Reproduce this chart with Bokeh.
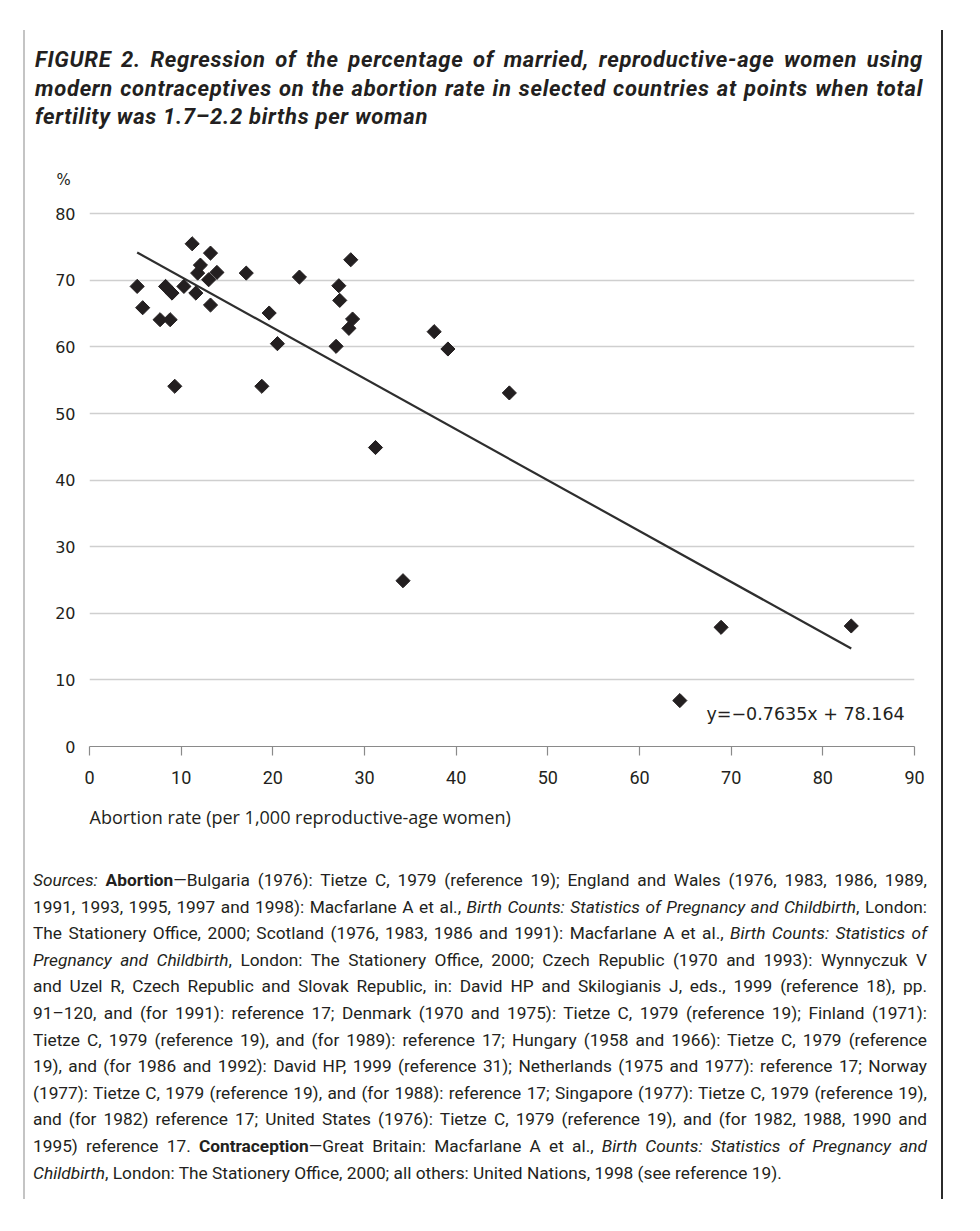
import numpy as np
from bokeh.plotting import figure
from bokeh.models import Label, Div, FixedTicker, Range1d, Title
from bokeh.layouts import column
from bokeh.embed import file_html
from bokeh.resources import INLINE

# ---------------- data ----------------
abortion_rate = [5.2, 5.8, 7.7, 8.8, 8.3, 9.0, 9.3, 10.3, 11.2, 11.6,
                 11.8, 12.1, 13.0, 13.2, 13.2, 13.9, 17.1, 18.8, 19.6, 20.5,
                 22.9, 26.9, 27.2, 27.3, 28.3, 28.5, 28.7, 31.2, 34.2, 37.6,
                 39.1, 45.8, 64.4, 68.9, 83.1]
contraceptive_pct = [69.1, 65.9, 64.1, 64.1, 69.1, 68.1, 54.1, 69.1, 75.5, 68.1,
                     71.1, 72.3, 70.1, 74.1, 66.3, 71.2, 71.1, 54.1, 65.1, 60.5,
                     70.5, 60.1, 69.2, 67.0, 62.8, 73.1, 64.2, 44.9, 24.9, 62.3,
                     59.7, 53.1, 6.9, 17.9, 18.1]
slope = -0.7635
intercept = 78.164
x_ticks = [0, 10, 20, 30, 40, 50, 60, 70, 80, 90]
y_ticks = [0, 10, 20, 30, 40, 50, 60, 70, 80]
equation_text = "y=\u22120.7635x + 78.164"
x_axis_title = "Abortion rate (per 1,000 reproductive-age women)"
y_unit = "%"

title_lines = [
    "FIGURE 2. Regression of the percentage of married, reproductive-age women using",
    "modern contraceptives on the abortion rate in selected countries at points when total",
    "fertility was 1.7\u20132.2 births per woman",
]
source_lines = [
    "<i>Sources:</i> <b>Abortion</b>\u2014Bulgaria (1976): Tietze C, 1979 (reference 19); England and Wales (1976, 1983, 1986, 1989,",
    "1991, 1993, 1995, 1997 and 1998): Macfarlane A et al., <i>Birth Counts: Statistics of Pregnancy and Childbirth</i>, London:",
    "The Stationery Office, 2000; Scotland (1976, 1983, 1986 and 1991): Macfarlane A et al., <i>Birth Counts: Statistics of</i>",
    "<i>Pregnancy and Childbirth</i>, London: The Stationery Office, 2000; Czech Republic (1970 and 1993): Wynnyczuk V",
    "and Uzel R, Czech Republic and Slovak Republic, in: David HP and Skilogianis J, eds., 1999 (reference 18), pp.",
    "91\u2013120, and (for 1991): reference 17; Denmark (1970 and 1975): Tietze C, 1979 (reference 19); Finland (1971):",
    "Tietze C, 1979 (reference 19), and (for 1989): reference 17; Hungary (1958 and 1966): Tietze C, 1979 (reference",
    "19), and (for 1986 and 1992): David HP, 1999 (reference 31); Netherlands (1975 and 1977): reference 17; Norway",
    "(1977): Tietze C, 1979 (reference 19), and (for 1988): reference 17; Singapore (1977): Tietze C, 1979 (reference 19),",
    "and (for 1982) reference 17; United States (1976): Tietze C, 1979 (reference 19), and (for 1982, 1988, 1990 and",
    "1995) reference 17. <b>Contraception</b>\u2014Great Britain: Macfarlane A et al., <i>Birth Counts: Statistics of Pregnancy and</i>",
    "<i>Childbirth</i>, London: The Stationery Office, 2000; all others: United Nations, 1998 (see reference 19).",
]

INK = "#231f20"
FONT = "Roboto, 'Open Sans', sans-serif"

def block(lines):
    out = []
    for i, l in enumerate(lines):
        align = "left" if i == len(lines) - 1 else "justify"
        out.append(f'<div style="white-space:nowrap;text-align:justify;text-align-last:{align};">{l}</div>')
    return "".join(out)

# ---------------- title ----------------
title_html = (f'<div style="width:893px;padding:11px 0 0 5px;font-family:{FONT};'
              f'font-size:22px;letter-spacing:0.7px;line-height:28.5px;'
              f'font-weight:bold;font-style:italic;color:{INK};">'
              + block(title_lines) + '</div>')
title_div = Div(text=title_html, width=916, height=97)

# ---------------- plot ----------------
p = figure(width=916, height=707, x_range=Range1d(0, 90), y_range=Range1d(0, 80.5),
           output_backend="svg", toolbar_location=None,
           min_border_left=64, min_border_right=27, min_border_top=73, min_border_bottom=98)
p.outline_line_color = None
p.background_fill_color = "white"
p.border_fill_color = "white"

p.xgrid.visible = False
p.ygrid.ticker = FixedTicker(ticks=y_ticks[1:])
p.ygrid.grid_line_color = "#cfcfcf"
p.ygrid.grid_line_width = 1.5

p.xaxis.ticker = FixedTicker(ticks=x_ticks)
p.xaxis.axis_line_color = "#8a8a8a"
p.xaxis.axis_line_width = 1.2
p.xaxis.major_tick_line_color = "#8a8a8a"
p.xaxis.major_tick_line_width = 1.2
p.xaxis.major_tick_out = 9
p.xaxis.major_tick_in = 0
p.xaxis.minor_tick_line_color = None
p.xaxis.major_label_standoff = 15
p.xaxis.major_label_text_font = "Roboto"
p.xaxis.major_label_text_font_size = "18px"
p.xaxis.major_label_text_color = INK

p.yaxis.ticker = FixedTicker(ticks=y_ticks)
p.yaxis.axis_line_color = None
p.yaxis.major_tick_line_color = None
p.yaxis.minor_tick_line_color = None
p.yaxis.major_tick_out = 0
p.yaxis.major_tick_in = 0
p.yaxis.major_label_standoff = 14
p.yaxis.major_label_text_font = "DejaVu Sans"
p.yaxis.major_label_text_font_size = "16px"
p.yaxis.major_label_text_color = INK

# regression line drawn from the equation over the data's x extent
xs_fit = np.array([min(abortion_rate), max(abortion_rate)])
p.line(xs_fit, slope * xs_fit + intercept, line_color="#2e2e2e", line_width=2.2)

p.scatter(abortion_rate, contraceptive_pct, marker="square", angle=np.pi / 4,
          size=10, fill_color=INK, line_color=INK)

p.add_layout(Label(x=67.3, y=4.95, text=equation_text, text_baseline="middle",
                   text_font="DejaVu Sans", text_font_size="17.5px", text_color=INK))

# "%" unit above the y tick labels, x-axis title left-aligned below the ticks
p.add_layout(Title(text=y_unit, align="left", offset=-33, standoff=43,
                   text_font="DejaVu Sans", text_font_size="15px",
                   text_font_style="normal", text_color=INK), "above")
p.add_layout(Title(text=x_axis_title, align="left", offset=0, standoff=32,
                   text_font="Open Sans", text_font_size="18px",
                   text_font_style="normal", text_color=INK), "below")

# ---------------- sources ----------------
src_html = (f'<div style="width:897px;padding:18px 0 0 3px;font-family:{FONT};'
            f'font-size:17.3px;line-height:26.6px;color:{INK};">'
            + block(source_lines) + '</div>')
src_div = Div(text=src_html, width=916, height=345)

layout = column(title_div, p, src_div, spacing=0,
                styles={"margin-left": "23px", "margin-top": "30px",
                        "width": "920px", "box-sizing": "border-box",
                        "border-left": "2px solid #c4c4c4",
                        "border-right": "2px solid #2b2b2b"})

open("out.html", "w").write(file_html(layout, INLINE))
